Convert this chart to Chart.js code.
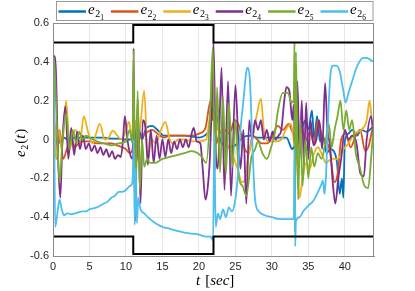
<!DOCTYPE html>
<html>
<head>
<meta charset="utf-8">
<script src="https://cdn.jsdelivr.net/npm/chart.js@4"></script>
<style>
  html, body { margin: 0; padding: 0; background: #fff; }
  #wrap { width: 415px; height: 291px; }
</style>
</head>
<body>
<div id="wrap"><canvas id="chart" width="415" height="291"></canvas></div>
<script>
// error signals e_2k(t) as [t, value]
const seriesNames = ['1', '2', '3', '4', '5', '6'];
const seriesColors = ['#0072BD', '#D95319', '#EDB120', '#7E2F8E', '#77AC30', '#4DBEEE'];

const e21 = [[0,0.0],[0.15,0.08],[0.4,-0.06],[0.7,0.03],[1.0,-0.02],[1.5,0.01],[2,0.0],[3,0.01],[4,0.01],[5,0.01],[6,0.01],[7,0.01],[8,0.005],[9,0.005],[10,0.0],[10.8,0.0],[11.05,0.0],[11.2,0.1],[11.5,-0.05],[11.8,0.05],[12.2,0.0],[12.8,0.06],[13.6,0.07],[14.3,0.05],[15.2,0.02],[16,0.02],[17,0.02],[18,0.02],[19,0.015],[20,0.01],[20.8,0.02],[21.4,0.05],[21.8,0.12],[22.0,0.18],[22.2,0.1],[22.5,0.12],[22.9,0.0],[23.5,-0.03],[24.2,-0.04],[25,-0.03],[26,0.01],[27,0.02],[28,0.01],[29,0.01],[30,0.01],[31,0.01],[32,0.01],[32.8,-0.05],[33.0,-0.04],[33.3,-0.05],[33.6,0.0],[34.1,0.05],[34.6,0.1],[35.0,0.05],[35.5,0.15],[35.8,0.0],[36.2,0.12],[36.6,-0.01],[37.0,0.02],[37.5,-0.07],[38.0,-0.05],[38.9,-0.11],[39.3,-0.28],[39.6,-0.2],[39.8,-0.3],[40.0,-0.01],[40.5,0.03],[41,0.05],[41.7,0.02],[42.2,0.05],[43,0.04],[43.7,0.06],[44,0.07]];

const e22 = [[0,0.0],[0.2,0.1],[0.5,-0.1],[0.9,0.05],[1.4,-0.1],[1.9,-0.05],[2.5,0.0],[3.0,-0.04],[3.5,-0.02],[4.2,-0.01],[5,-0.01],[6,-0.02],[7,-0.02],[8,-0.02],[8.8,-0.03],[9.5,-0.04],[10,-0.05],[10.5,-0.07],[10.9,-0.05],[11.1,0.05],[11.4,-0.12],[11.8,0.0],[12.3,0.02],[13,0.04],[13.6,0.05],[14.3,0.03],[15.2,0.01],[16,0.02],[16.8,0.02],[17.5,0.02],[18.3,0.02],[19.1,0.02],[20,0.03],[20.9,0.06],[21.6,0.2],[21.9,0.1],[22.1,0.15],[22.4,-0.02],[22.8,0.03],[23.5,0.05],[24.2,0.03],[24.9,0.1],[25.5,0.07],[26.2,-0.04],[26.8,-0.07],[27.4,0.02],[28,0.0],[28.6,-0.02],[29.4,-0.02],[30.2,0.03],[30.8,0.07],[31.5,0.05],[32.3,0.08],[32.8,0.04],[33.2,0.02],[33.6,0.0],[34.1,0.07],[34.6,-0.01],[35.2,0.04],[35.8,-0.02],[36.3,0.1],[36.8,0.03],[37.2,0.0],[37.9,-0.05],[38.6,-0.22],[39.0,-0.18],[39.5,0.0],[40.1,0.03],[40.8,-0.04],[41.5,0.02],[42.1,0.05],[42.8,-0.06],[43.3,-0.03],[43.7,0.04],[44,0.08]];

const e23 = [[0,0.0],[0.15,0.15],[0.4,-0.1],[0.8,0.05],[1.2,-0.05],[1.8,0.2],[2.3,-0.05],[2.7,0.02],[3.1,0.05],[3.7,-0.02],[4.2,0.12],[4.8,0.04],[5.4,-0.02],[5.9,0.03],[6.4,0.08],[7.1,0.0],[7.6,0.01],[8.2,0.045],[8.8,0.02],[9.4,0.0],[10.0,0.05],[10.4,0.09],[10.8,0.02],[11.05,0.0],[11.4,0.1],[11.8,0.03],[12.5,0.25],[13.0,-0.1],[13.5,0.0],[14.1,-0.02],[14.8,0.05],[15.4,0.09],[16.0,0.0],[16.5,-0.02],[17.2,0.0],[18,0.0],[19,-0.01],[20,-0.01],[21.0,0.0],[21.6,0.15],[21.9,0.2],[22.2,0.12],[22.6,0.05],[23.2,0.04],[23.8,-0.02],[24.5,-0.07],[25.3,-0.15],[25.9,-0.22],[26.3,-0.21],[26.7,-0.1],[27.3,0.0],[27.9,0.12],[28.5,0.21],[28.9,0.05],[29.5,-0.01],[30.5,-0.01],[31.3,0.0],[31.9,0.05],[32.6,0.08],[33.0,0.0],[33.4,-0.1],[33.8,-0.3],[34.2,-0.2],[34.7,-0.12],[35.2,-0.15],[35.7,-0.08],[36.3,-0.04],[36.9,-0.08],[37.4,-0.12],[38.2,-0.1],[39.0,-0.1],[39.8,-0.05],[40.5,-0.02],[41.3,0.03],[42.3,0.05],[43.0,0.1],[43.4,0.2],[43.8,0.08],[44,0.1]];

const e24 = [[0,-0.45],[0.15,0.43],[0.4,0.35],[0.7,-0.1],[1.0,-0.3],[1.3,0.0],[1.7,0.17],[2.1,-0.1],[2.5,0.06],[2.9,-0.08],[3.3,0.04],[3.7,-0.05],[4.1,0.02],[4.5,-0.05],[4.9,-0.02],[5.3,-0.06],[5.7,-0.03],[6.1,-0.07],[6.5,-0.04],[6.9,-0.08],[7.3,-0.05],[7.7,-0.09],[8.1,-0.06],[8.5,-0.1],[8.9,-0.08],[9.3,-0.09],[9.6,0.0],[9.85,0.12],[10.2,0.0],[10.6,-0.08],[10.95,-0.1],[11.05,0.47],[11.25,-0.42],[11.6,0.2],[12.0,-0.33],[12.3,0.1],[12.7,0.05],[13.0,-0.13],[13.4,0.05],[13.8,-0.12],[14.2,0.02],[14.6,-0.1],[15.0,0.0],[15.4,-0.09],[15.8,0.0],[16.2,-0.07],[16.6,-0.01],[17.0,-0.05],[17.4,0.0],[17.8,-0.04],[18.2,0.0],[18.6,-0.04],[19.0,0.03],[19.3,0.06],[19.7,-0.01],[20.2,-0.02],[20.5,-0.14],[20.9,-0.31],[21.2,-0.25],[21.5,-0.1],[21.8,0.2],[22.0,0.5],[22.3,-0.05],[22.6,-0.15],[23.1,0.37],[23.5,-0.26],[24.0,0.3],[24.4,-0.29],[25.0,0.28],[25.4,0.0],[25.7,-0.15],[26.1,0.05],[26.5,-0.33],[26.9,0.1],[27.3,0.0],[27.7,0.1],[28.1,0.05],[28.5,0.1],[28.9,0.0],[29.3,0.05],[29.7,-0.01],[30.1,0.04],[30.5,0.0],[30.9,0.02],[31.3,0.05],[31.7,0.2],[32.0,0.27],[32.4,0.25],[32.8,0.1],[33.0,0.18],[33.2,-0.15],[33.5,0.3],[33.8,-0.1],[34.1,0.2],[34.4,-0.13],[34.7,0.19],[35.0,-0.1],[35.3,0.1],[35.7,-0.03],[36.1,0.0],[36.5,0.1],[36.9,-0.05],[37.3,0.29],[37.6,0.06],[38.0,-0.04],[38.3,-0.2],[38.7,-0.33],[39.1,-0.2],[39.5,-0.1],[40.0,0.05],[40.5,0.0],[41.0,0.02],[41.6,-0.02],[42.1,-0.17],[42.6,-0.19],[43.0,0.0],[43.6,0.12],[44,-0.04]];

const e25 = [[0,-0.4],[0.15,0.42],[0.5,0.1],[0.9,-0.22],[1.3,0.0],[1.8,0.13],[2.3,-0.05],[2.7,0.05],[3.2,-0.02],[3.6,0.04],[4.0,0.0],[4.5,0.02],[5,0.01],[6,-0.01],[7,-0.02],[8,-0.03],[9,-0.02],[10,-0.01],[10.5,0.05],[10.9,-0.02],[11.05,0.46],[11.25,-0.4],[11.6,0.25],[11.9,-0.26],[12.2,0.0],[12.5,-0.14],[12.9,-0.1],[13.3,-0.12],[14,-0.12],[15,-0.1],[16,-0.09],[17,-0.08],[18,-0.07],[19,-0.06],[19.8,-0.07],[20.4,-0.09],[21.0,-0.12],[21.5,0.1],[21.9,0.47],[22.2,-0.16],[22.5,0.27],[22.9,-0.17],[23.3,0.22],[23.7,-0.18],[24.1,0.19],[24.6,-0.14],[25.0,0.1],[25.5,-0.2],[26.0,-0.24],[26.5,-0.29],[27.2,-0.09],[27.7,-0.05],[28.1,-0.01],[28.7,-0.07],[29.3,-0.1],[29.9,-0.04],[30.4,0.03],[30.8,0.14],[31.5,0.24],[32.2,0.24],[32.7,0.19],[33.0,0.2],[33.1,0.5],[33.15,-0.48],[33.3,0.45],[33.6,-0.31],[33.9,0.1],[34.2,-0.24],[34.6,0.0],[35.0,-0.2],[35.4,-0.04],[35.8,-0.14],[36.3,-0.07],[36.8,-0.1],[37.4,0.0],[37.8,0.08],[38.2,-0.04],[38.6,0.05],[39.0,0.12],[39.4,0.2],[39.8,0.05],[40.2,0.15],[40.6,0.05],[41.0,0.1],[41.5,-0.07],[42.1,-0.15],[42.7,-0.24],[43.2,-0.25],[43.6,-0.1],[44,0.1]];

const e26 = [[0,0.47],[0.15,0.1],[0.3,-0.45],[0.6,-0.38],[0.9,-0.31],[1.2,-0.36],[1.5,-0.39],[2,-0.38],[2.5,-0.385],[3,-0.38],[3.5,-0.375],[4,-0.37],[4.5,-0.37],[5,-0.36],[5.5,-0.355],[6,-0.35],[6.5,-0.34],[7,-0.33],[7.5,-0.32],[8,-0.30],[8.5,-0.29],[9,-0.27],[9.5,-0.27],[10,-0.26],[10.5,-0.24],[10.9,-0.22],[11.05,0.0],[11.2,-0.44],[11.35,-0.15],[11.5,-0.43],[11.7,-0.3],[12.0,-0.36],[12.5,-0.38],[13,-0.4],[14,-0.43],[15,-0.45],[16,-0.46],[17,-0.47],[18,-0.48],[19,-0.485],[20,-0.49],[21,-0.5],[21.6,-0.5],[21.95,-0.52],[22.1,0.03],[22.3,-0.45],[22.6,-0.38],[22.9,-0.41],[23.3,-0.36],[23.7,-0.4],[24.1,-0.35],[24.5,-0.37],[24.9,-0.33],[25.3,-0.2],[25.7,0.05],[26.1,0.2],[26.5,0.35],[26.7,0.37],[27.0,0.3],[27.3,0.0],[27.7,-0.31],[28.2,-0.37],[29,-0.39],[30,-0.40],[31,-0.41],[32,-0.41],[33.0,-0.41],[33.1,-0.05],[33.2,-0.55],[33.3,-0.42],[33.8,-0.4],[34.3,-0.37],[35,-0.34],[35.6,-0.32],[36.2,-0.28],[36.8,-0.23],[37.0,-0.21],[37.2,-0.28],[37.4,-0.2],[37.7,0.1],[38.0,0.32],[38.4,0.38],[38.8,0.38],[39.3,0.35],[39.8,0.25],[40.1,0.19],[40.5,0.24],[41,0.3],[41.5,0.36],[42,0.4],[42.5,0.42],[43,0.42],[43.5,0.41],[44,0.40]];

// saturation bounds (black)
const upperBound = [[0,0.5],[11,0.5],[11,0.59],[22,0.59],[22,0.5],[44,0.5]];
const lowerBound = [[0,-0.5],[11,-0.5],[11,-0.59],[22,-0.59],[22,-0.5],[44,-0.5]];

const xTicks = [0, 5, 10, 15, 20, 25, 30, 35, 40];
const yTicks = [-0.6, -0.4, -0.2, 0, 0.2, 0.4, 0.6];

const allSeries = [e21, e22, e23, e24, e25, e26];
const toXY = arr => arr.map(p => ({ x: p[0], y: p[1] }));

const datasets = allSeries.map((s, i) => ({
  label: 'e2' + seriesNames[i],
  data: toXY(s),
  borderColor: seriesColors[i],
  borderWidth: 1.8,
  pointRadius: 0,
  cubicInterpolationMode: 'monotone',
  order: 6 - i
}));
[upperBound, lowerBound].forEach((b, i) => datasets.push({
  label: i ? 'lower' : 'upper',
  data: toXY(b),
  borderColor: '#000',
  borderWidth: 2,
  pointRadius: 0,
  tension: 0,
  order: 0
}));

const mathFont = "'Liberation Serif', 'DejaVu Serif', serif";

// e_{2_k} with nested subscripts
function drawE2k(ctx, x, y, k) {
  ctx.fillStyle = '#000';
  ctx.textBaseline = 'alphabetic';
  ctx.textAlign = 'left';
  ctx.font = 'italic 15px ' + mathFont;
  ctx.fillText('e', x, y);
  x += ctx.measureText('e').width + 0.5;
  ctx.font = '10px ' + mathFont;
  ctx.fillText('2', x, y + 3);
  x += ctx.measureText('2').width;
  ctx.font = '7.5px ' + mathFont;
  ctx.fillText(k, x, y + 6);
}

const decorations = {
  id: 'decorations',
  afterDraw(chart) {
    const { ctx, chartArea: a } = chart;
    ctx.save();
    // box around axes
    ctx.strokeStyle = '#8a8a8a';
    ctx.lineWidth = 1;
    ctx.strokeRect(a.left + 0.5, a.top + 0.5, a.right - a.left - 1, a.bottom - a.top);

    // legend
    ctx.fillStyle = '#fff';
    ctx.fillRect(57, 1.5, 316, 19);
    ctx.strokeStyle = '#999';
    ctx.strokeRect(56.5, 1.5, 316.5, 19);
    seriesNames.forEach((k, i) => {
      const x0 = 58.5 + i * 52.4;
      ctx.strokeStyle = seriesColors[i];
      ctx.lineWidth = 2.5;
      ctx.beginPath();
      ctx.moveTo(x0, 11.5);
      ctx.lineTo(x0 + 27.5, 11.5);
      ctx.stroke();
      drawE2k(ctx, x0 + 29.5, 13.5, k);
    });

    // x label: t [sec]
    ctx.fillStyle = '#000';
    ctx.textBaseline = 'alphabetic';
    ctx.textAlign = 'left';
    let x = 196, y = 285;
    ctx.font = 'italic 15px ' + mathFont;
    ctx.fillText('t', x, y);
    x += ctx.measureText('t').width + 5;
    ctx.font = '15px ' + mathFont;
    ctx.fillText('[', x, y);
    x += ctx.measureText('[').width;
    ctx.font = 'italic 15px ' + mathFont;
    ctx.fillText('sec', x, y);
    x += ctx.measureText('sec').width;
    ctx.font = '15px ' + mathFont;
    ctx.fillText(']', x, y);

    // y label: e_2(t)
    ctx.translate(25, 157);
    ctx.rotate(-Math.PI / 2);
    x = 0; y = 0;
    ctx.font = 'italic 15px ' + mathFont;
    ctx.fillText('e', x, y);
    x += ctx.measureText('e').width + 0.5;
    ctx.font = '10px ' + mathFont;
    ctx.fillText('2', x, y + 3);
    x += ctx.measureText('2').width + 1;
    ctx.font = '15px ' + mathFont;
    ctx.fillText('(', x, y);
    x += ctx.measureText('(').width;
    ctx.font = 'italic 15px ' + mathFont;
    ctx.fillText('t', x, y);
    x += ctx.measureText('t').width + 1;
    ctx.font = '15px ' + mathFont;
    ctx.fillText(')', x, y);
    ctx.restore();
  }
};

const tickFont = { family: "'Liberation Sans', Arial, sans-serif", size: 11 };

new Chart(document.getElementById('chart'), {
  type: 'line',
  data: { datasets },
  options: {
    responsive: false,
    animation: false,
    devicePixelRatio: 1,
    layout: { padding: { top: 23, right: 41, bottom: 0, left: 0 } },
    plugins: { legend: { display: false }, tooltip: { enabled: false } },
    scales: {
      x: {
        type: 'linear',
        min: 0,
        max: 44,
        afterFit: s => { s.height = 35; },
        afterBuildTicks: s => { s.ticks = xTicks.map(v => ({ value: v })); },
        grid: { color: '#e6e6e6', drawTicks: false },
        border: { color: '#8a8a8a' },
        ticks: { color: '#262626', font: tickFont, padding: 4, maxRotation: 0 }
      },
      y: {
        min: -0.6,
        max: 0.6,
        afterFit: s => { s.width = 53; },
        afterBuildTicks: s => { s.ticks = yTicks.map(v => ({ value: v })); },
        grid: { color: '#e6e6e6', drawTicks: false },
        border: { color: '#8a8a8a' },
        ticks: {
          color: '#262626', font: tickFont, padding: 4,
          callback: v => String(Math.round(v * 10) / 10)
        }
      }
    }
  },
  plugins: [decorations]
});
</script>
</body>
</html>
